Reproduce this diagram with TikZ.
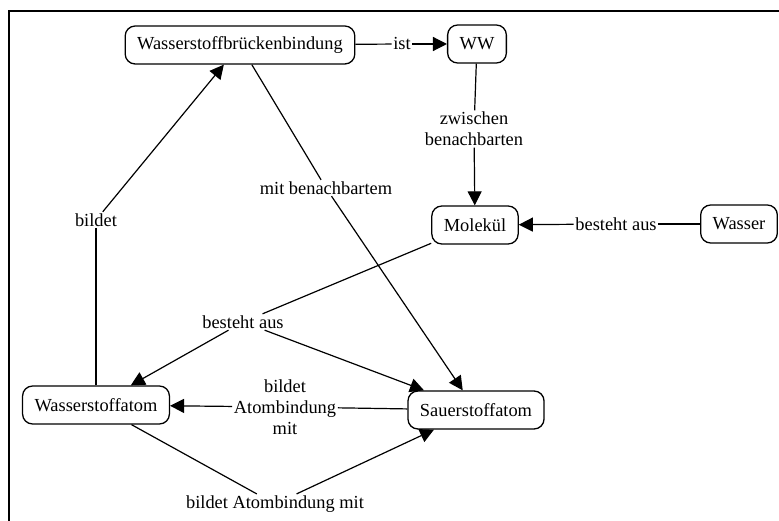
\documentclass[tikz,border=0pt]{standalone}
\usepackage{fontspec}
\setmainfont{Liberation Serif}
\usetikzlibrary{arrows.meta}

\begin{document}
\begin{tikzpicture}[x=1pt,y=-1pt,
    concept/.style={draw, line width=1.3pt, rounded corners=10pt, minimum height=38pt,
      inner xsep=12pt, inner ysep=0pt, font=\fontsize{18.4}{21}\selectfont},
    rel/.style={inner sep=1.5pt, align=center, font=\fontsize{18.4}{21}\selectfont},
    link/.style={line width=1.2pt},
    arr/.style={link, -{Triangle[length=14pt,width=14pt]}}]
  \useasboundingbox (0,0) rectangle (779,521);
  % Rahmen (links und oben)
  \draw[line width=2.6pt] (9,521) -- (9,11) -- (779,11);
  % Begriffe
  \node[concept] (wbb) at (240,45) {Wasserstoffbrückenbindung};
  \node[concept] (ww) at (477,44) {WW};
  \node[concept] (mol) at (475,225) {Molekül};
  \node[concept] (wasser) at (739,224) {Wasser};
  \node[concept] (hatom) at (96,405) {Wasserstoffatom};
  \node[concept] (satom) at (476,410) {Sauerstoffatom};
  % Beschriftungen der Verbindungen
  \node[rel] (ist) at (402,44) {ist};
  \node[rel] (zb) at (474,129) {zwischen\\benachbarten};
  \node[rel] (ba1) at (616,224) {besteht aus};
  \node[rel] (ba2) at (243,322) {besteht aus};
  \node[rel] (mb) at (326,188) {mit benachbartem};
  \node[rel] (bi) at (96,220) {bildet};
  \node[rel] (bam) at (285,407) {bildet\\Atombindung\\mit};
  \node[rel] (bab) at (275,504) {bildet Atombindung mit};
  % Verbindungen
  \draw[link] (wbb) -- (ist);    \draw[arr] (ist) -- (ww);
  \draw[link] (ww) -- (zb);      \draw[arr] (zb) -- (mol);
  \draw[link] (wasser) -- (ba1); \draw[arr] (ba1) -- (mol);
  \draw[link] (mol) -- (ba2);    \draw[arr] (ba2) -- (hatom);
  \draw[arr] (ba2) -- (satom);
  \draw[link] (wbb) -- (mb);     \draw[arr] (mb) -- (satom);
  \draw[link] (hatom) -- (bi);   \draw[arr] (bi) -- (wbb);
  \draw[link] (satom) -- (bam);  \draw[arr] (bam) -- (hatom);
  \draw[link] (hatom) -- (bab);  \draw[arr] (bab) -- (satom);
\end{tikzpicture}
\end{document}
